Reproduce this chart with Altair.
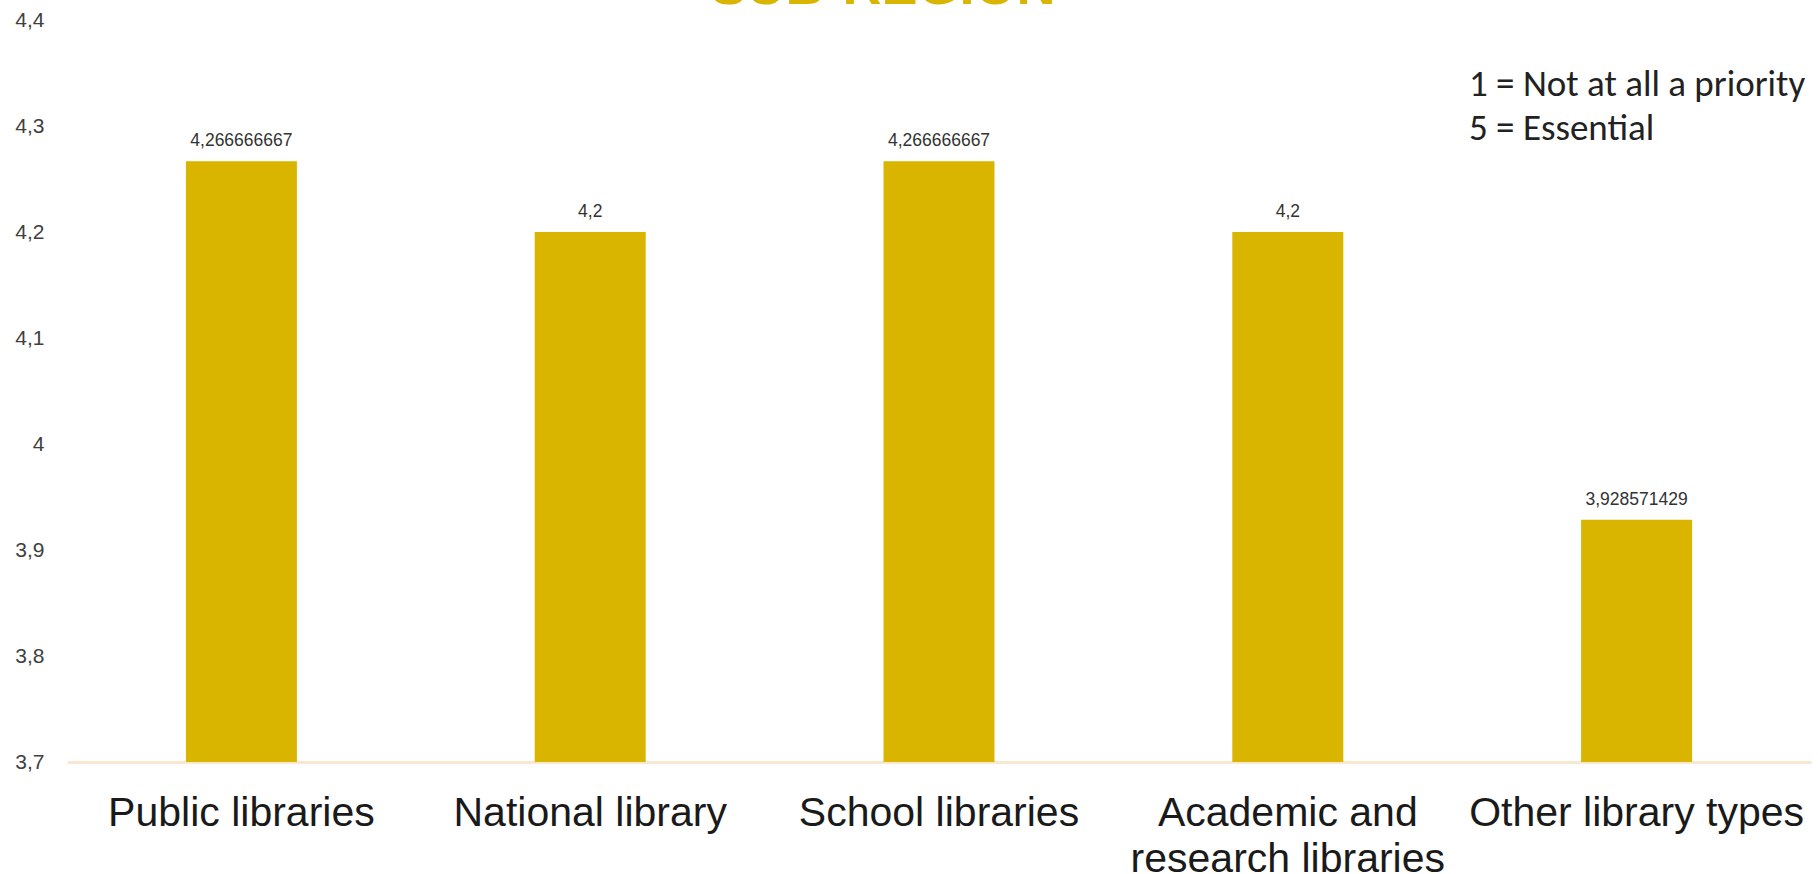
import altair as alt
import pandas as pd

categories = ["Public libraries", "National library", "School libraries",
              "Academic and research libraries", "Other library types"]
values = [4.266666667, 4.2, 4.266666667, 4.2, 3.928571429]
y_ticks = [3.7, 3.8, 3.9, 4.0, 4.1, 4.2, 4.3, 4.4]
note_lines = ["1 = Not at all a priority", "5 = Essential"]
title_lines = ["SUB-REGION"]

df = pd.DataFrame({"category": categories, "value": values})
notes = pd.DataFrame({"line": note_lines, "row": list(range(len(note_lines)))})
titles = pd.DataFrame({"line": title_lines})

GOLD = "#D9B500"

x_enc = alt.X(
    "category:N", sort=categories, title=None,
    scale=alt.Scale(paddingInner=0, paddingOuter=0),
    axis=alt.Axis(
        labelAngle=0, labelFontSize=41, labelFont="Liberation Sans, Arial",
        labelColor="#1a1a1a", labelPadding=51, labelLineHeight=46, labelBaseline="middle",
        labelLimit=0,
        labelExpr="datum.value == 'Academic and research libraries' ? ['Academic and', 'research libraries'] : datum.value",
        ticks=False, domainColor="#F9E7CF", domainWidth=3, grid=False,
    ),
)
y_enc = alt.Y(
    "value:Q", title=None,
    scale=alt.Scale(domain=[3.7, 4.4], zero=False, clamp=True),
    axis=alt.Axis(
        values=y_ticks, labelExpr="replace(format(datum.value, '.1~f'), '.', ',')",
        labelFontSize=21, labelFont="Liberation Sans, Arial", labelColor="#404040",
        labelPadding=23, domain=False, ticks=False, grid=False,
    ),
)

bars = alt.Chart(df).mark_bar(color=GOLD, size=111).encode(x=x_enc, y=y_enc)

labels = alt.Chart(df).transform_calculate(
    label="replace(format(datum.value, '.10~g'), '.', ',')"
).mark_text(
    dy=-20, fontSize=17.5, font="Liberation Sans, Arial", color="#333333", baseline="middle"
).encode(x=alt.X("category:N", sort=categories), y="value:Q", text="label:N")

note_layers = []
for i, ypos in enumerate([65, 109]):
    note_layers.append(
        alt.Chart(notes).transform_filter(alt.datum.row == i).mark_text(
            align="left", baseline="middle", fontSize=37, font="Carlito, Open Sans", color="#222222"
        ).encode(x=alt.value(1402), y=alt.value(ypos), text="line:N")
    )

title = alt.Chart(titles).mark_text(
    align="center", baseline="alphabetic", fontSize=54, fontWeight="bold",
    font="Liberation Sans, Arial", color=GOLD,
).encode(x=alt.value(816), y=alt.value(-16), text="line:N")

chart = alt.layer(bars, labels, *note_layers, title).properties(
    width=1744, height=742, background="white",
    autosize=alt.AutoSizeParams(type="none"),
    padding={"left": 67, "top": 20, "right": 7, "bottom": 112},
).configure_view(stroke=None)

chart.save("out.html", embed_options={"renderer": "svg", "actions": False})
